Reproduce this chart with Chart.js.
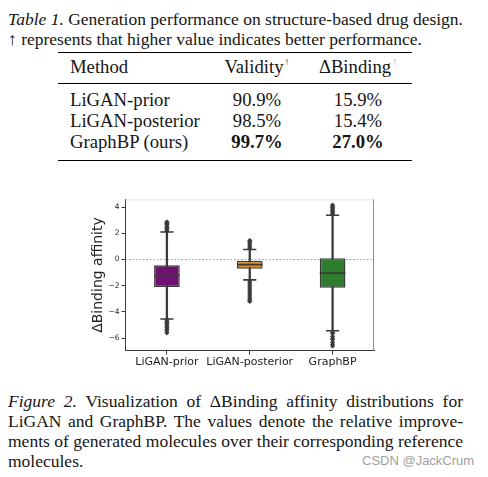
<!DOCTYPE html>
<html><head><meta charset="utf-8">
<script src="https://cdn.jsdelivr.net/npm/chart.js@4.4.0/dist/chart.umd.min.js"></script>
<style>
html,body{margin:0;padding:0;background:#fff;width:488px;height:477px;overflow:hidden;}
.t{position:absolute;font-family:"Liberation Serif","Times New Roman",serif;color:#151515;white-space:nowrap;}
.cap{font-size:17.5px;line-height:20px;}
.j{text-align:justify;text-align-last:justify;white-space:normal;width:455px;left:8px;}
.tb{font-size:18.7px;line-height:21px;}
.c1{left:70px;}
.c2{left:197px;width:120px;text-align:center;}
.c3{left:298px;width:120px;text-align:center;}
.sup{font-size:10px;position:relative;top:-8px;margin-left:1px;}
.rule{position:absolute;left:58px;width:354px;background:#000;}
.wm{position:absolute;left:362px;top:453px;font-family:"Liberation Sans",Arial,sans-serif;font-size:13px;line-height:15px;color:#a0a0a0;white-space:nowrap;}
#wrap{position:absolute;left:80px;top:185px;width:310px;height:190px;}
</style>
</head><body>
<div class="t cap j" style="top:9px;"><i>Table 1.</i> Generation performance on structure-based drug design.</div>
<div class="t cap" style="left:8px;top:29px;">↑ represents that higher value indicates better performance.</div>

<div class="rule" style="top:51.5px;height:1.3px;"></div>
<div class="t tb c1" style="top:56px;">Method</div>
<div class="t tb c2" style="top:56px;">Validity<span class="sup">↑</span></div>
<div class="t tb c3" style="top:56px;">ΔBinding<span class="sup" style="color:#5fb0d0;">↑</span></div>
<div class="rule" style="top:82.6px;height:0.9px;"></div>
<div class="t tb c1" style="top:89px;">LiGAN-prior</div>
<div class="t tb c2" style="top:89px;">90.9%</div>
<div class="t tb c3" style="top:89px;">15.9%</div>
<div class="t tb c1" style="top:110px;">LiGAN-posterior</div>
<div class="t tb c2" style="top:110px;">98.5%</div>
<div class="t tb c3" style="top:110px;">15.4%</div>
<div class="t tb c1" style="top:131px;">GraphBP (ours)</div>
<div class="t tb c2" style="top:131px;"><b>99.7%</b></div>
<div class="t tb c3" style="top:131px;"><b>27.0%</b></div>
<div class="rule" style="top:159.5px;height:1.3px;"></div>

<div id="wrap"><canvas id="c" width="310" height="190" style="width:310px;height:190px;"></canvas></div>

<div class="t cap j" style="top:391px;"><i>Figure 2.</i> Visualization of ΔBinding affinity distributions for</div>
<div class="t cap j" style="top:411px;">LiGAN and GraphBP. The values denote the relative improve-</div>
<div class="t cap j" style="top:431px;">ments of generated molecules over their corresponding reference</div>
<div class="t cap" style="left:8px;top:451px;">molecules.</div>
<div class="wm">CSDN @JackCrum</div>

<script>
// ---- data ----
const CATEGORIES = ['LiGAN-prior', 'LiGAN-posterior', 'GraphBP'];
const Q1 = [-2.10, -0.70, -2.15];
const Q3 = [-0.44, -0.10, 0.10];
const MEDIANS = [-1.21, -0.39, -1.04];
const WHISKER_LOW = [-4.53, -1.55, -5.43];
const WHISKER_HIGH = [2.09, 0.76, 3.37];
const OUTLIERS_PRIOR = [2.15, 2.25, 2.35, 2.45, 2.55, 2.65, 2.73, 2.80, 2.87,
  -4.60, -4.70, -4.80, -4.90, -5.00, -5.10, -5.20, -5.32, -5.45, -5.60];
const OUTLIERS_POSTERIOR = [0.86, 0.96, 1.12, 1.26, 1.36, 1.46,
  -1.65, -1.80, -1.95, -2.10, -2.25, -2.40, -2.55, -2.70, -2.85, -3.00, -3.10, -3.20];
const OUTLIERS_GRAPHBP = [3.45, 3.55, 3.65, 3.75, 3.85, 3.95, 4.05, 4.15,
  -5.55, -5.65, -5.85, -6.00, -6.10, -6.30, -6.45, -6.60];
const Y_TICKS = [-6, -4, -2, 0, 2, 4];
const Y_MIN = -6.95;
const Y_MAX = 4.58;
const REFERENCE_VALUE = 0;
const Y_TITLE = 'ΔBinding affinity';
const BOX_COLORS = ['#701070', '#df8920', '#2f7e2f'];
const LINE_COLOR = '#3a3a3a';

const OUTLIERS = [OUTLIERS_PRIOR, OUTLIERS_POSTERIOR, OUTLIERS_GRAPHBP];

const boxData = CATEGORIES.map((c, i) => [Q1[i], Q3[i]]);
const whiskerData = CATEGORIES.map((c, i) => [WHISKER_LOW[i], WHISKER_HIGH[i]]);
const medianData = CATEGORIES.map((c, i) => ({x: c, y: MEDIANS[i]}));
const capData = [];
CATEGORIES.forEach((c, i) => { capData.push({x: c, y: WHISKER_LOW[i]}); capData.push({x: c, y: WHISKER_HIGH[i]}); });
const outlierData = [];
CATEGORIES.forEach((c, i) => OUTLIERS[i].forEach(v => outlierData.push({x: c, y: v})));

const framePlugin = {
  id: 'frame',
  beforeDatasetsDraw(chart) {
    const {ctx, chartArea: a, scales: {y}} = chart;
    const y0 = y.getPixelForValue(REFERENCE_VALUE);
    ctx.save();
    ctx.strokeStyle = '#9a9a9a';
    ctx.lineWidth = 1;
    ctx.setLineDash([1.5, 2]);
    ctx.beginPath(); ctx.moveTo(a.left, y0); ctx.lineTo(a.right, y0); ctx.stroke();
    ctx.restore();
  },
  afterDraw(chart) {
    const {ctx, chartArea: a} = chart;
    ctx.save();
    ctx.lineWidth = 1;
    ctx.strokeStyle = '#e2e2e2';
    ctx.beginPath(); ctx.moveTo(a.left, a.top + 0.5); ctx.lineTo(a.right, a.top + 0.5); ctx.stroke();
    ctx.strokeStyle = '#8a8a8a';
    ctx.beginPath(); ctx.moveTo(a.right - 0.5, a.top); ctx.lineTo(a.right - 0.5, a.bottom); ctx.stroke();
    ctx.restore();
  }
};

new Chart(document.getElementById('c'), {
  type: 'bar',
  data: {
    labels: CATEGORIES,
    datasets: [
      {
        type: 'bar', data: whiskerData, backgroundColor: LINE_COLOR, barThickness: 1.6,
        grouped: false, order: 5, borderWidth: 0
      },
      {
        type: 'bar', data: boxData, backgroundColor: BOX_COLORS, borderColor: LINE_COLOR,
        borderWidth: 1.4, borderSkipped: false, barPercentage: 0.31, categoryPercentage: 1,
        grouped: false, order: 4
      },
      {
        type: 'line', data: medianData, showLine: false, pointStyle: 'line', pointRadius: 12.8,
        pointBorderColor: LINE_COLOR, pointBorderWidth: 1.6, order: 3
      },
      {
        type: 'line', data: capData, showLine: false, pointStyle: 'line', pointRadius: 6.6,
        pointBorderColor: LINE_COLOR, pointBorderWidth: 1.6, order: 3
      },
      {
        type: 'line', data: outlierData, showLine: false, pointStyle: 'rectRot', pointRadius: 2.2,
        pointBackgroundColor: LINE_COLOR, pointBorderColor: LINE_COLOR, pointBorderWidth: 0.6, order: 2
      }
    ]
  },
  options: {
    responsive: false,
    animation: false,
    layout: {padding: {left: 0, top: 7, right: 16, bottom: 0}},
    plugins: {legend: {display: false}, tooltip: {enabled: false}},
    scales: {
      x: {
        type: 'category',
        offset: true,
        grid: {display: true, drawOnChartArea: false, drawTicks: true, tickLength: 4, offset: false, color: LINE_COLOR},
        border: {display: true, color: LINE_COLOR, width: 1},
        ticks: {font: {family: 'DejaVu Sans', size: 11}, color: '#222', padding: 1, maxRotation: 0, autoSkip: false},
        afterFit(s) { s.height = 24.3; }
      },
      y: {
        type: 'linear',
        min: Y_MIN, max: Y_MAX,
        afterBuildTicks(s) { s.ticks = Y_TICKS.map(v => ({value: v})); },
        grid: {display: true, drawOnChartArea: false, drawTicks: true, tickLength: 4, color: LINE_COLOR},
        border: {display: true, color: LINE_COLOR, width: 1},
        ticks: {
          font: {family: 'DejaVu Sans', size: 7.5}, color: '#222', padding: 2,
          callback: v => v < 0 ? '\u2212' + (-v) : String(v)
        },
        title: {display: true, text: Y_TITLE, font: {family: 'DejaVu Sans', size: 14}, color: '#222', padding: {top: 9.6, bottom: 0}},
        afterFit(s) { s.width = 45.5; }
      }
    }
  },
  plugins: [framePlugin]
});
</script>
</body></html>
